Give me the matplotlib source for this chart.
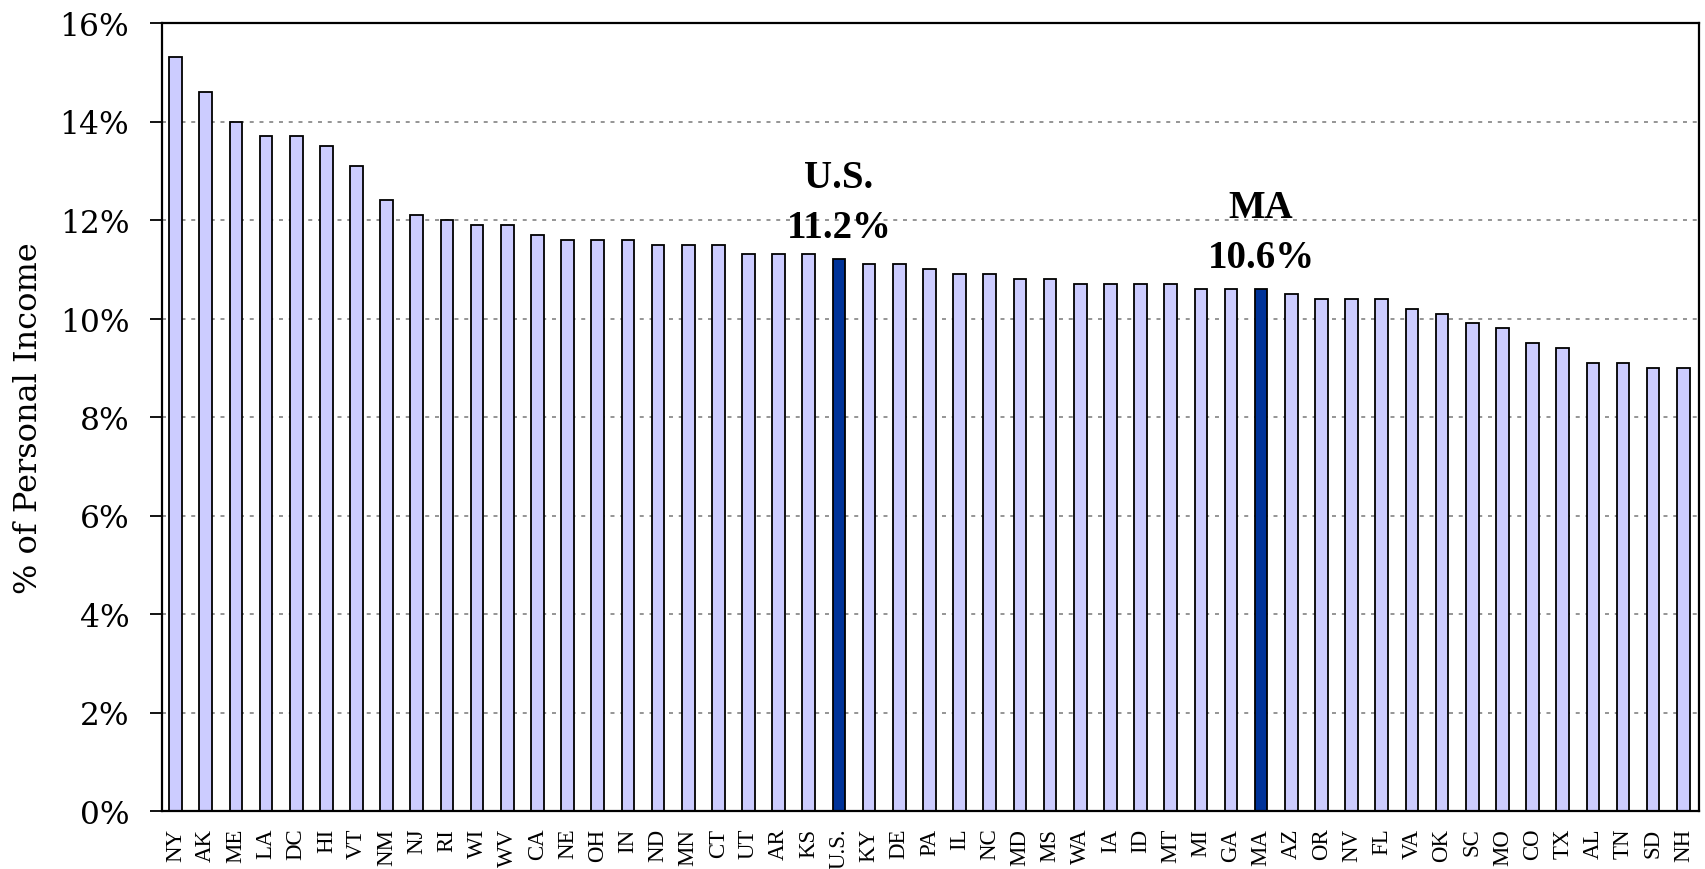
import matplotlib
matplotlib.use("Agg")
import matplotlib.pyplot as plt
from matplotlib.ticker import FixedLocator, FuncFormatter

states = ["NY", "AK", "ME", "LA", "DC", "HI", "VT", "NM", "NJ", "RI", "WI", "WV",
          "CA", "NE", "OH", "IN", "ND", "MN", "CT", "UT", "AR", "KS", "U.S.", "KY",
          "DE", "PA", "IL", "NC", "MD", "MS", "WA", "IA", "ID", "MT", "MI", "GA",
          "MA", "AZ", "OR", "NV", "FL", "VA", "OK", "SC", "MO", "CO", "TX", "AL",
          "TN", "SD", "NH"]
values = [15.3, 14.6, 14.0, 13.7, 13.7, 13.5, 13.1, 12.4, 12.1, 12.0, 11.9, 11.9,
          11.7, 11.6, 11.6, 11.6, 11.5, 11.5, 11.5, 11.3, 11.3, 11.3, 11.2, 11.1,
          11.1, 11.0, 10.9, 10.9, 10.8, 10.8, 10.7, 10.7, 10.7, 10.7, 10.6, 10.6,
          10.6, 10.5, 10.4, 10.4, 10.4, 10.2, 10.1, 9.9, 9.8, 9.5, 9.4, 9.1,
          9.1, 9.0, 9.0]
highlight = ["U.S.", "MA"]
yticks = [0, 2, 4, 6, 8, 10, 12, 14, 16]
ylabel = "% of Personal Income"

light = "#CCCCFF"
dark = "#003399"

fig = plt.figure(figsize=(17.06, 8.70), dpi=100)
W, H = 1706, 870
ax = fig.add_axes([162 / W, 1 - 812 / H, (1699 - 162) / W, (812 - 24) / H])

x = list(range(len(states)))
colors = [dark if s in highlight else light for s in states]
ax.bar(x, values, width=0.42, color=colors, edgecolor="black", linewidth=1.3, zorder=2)

ax.set_xlim(-0.45, len(states) - 0.48)
ax.set_ylim(0, 16)

ax.yaxis.set_major_locator(FixedLocator(yticks))
ax.yaxis.set_major_formatter(FuncFormatter(lambda v, p: f"{v:.0f}%"))
ax.set_axisbelow(True)
ax.yaxis.grid(True, linestyle=(0, (2.2, 3.2)), color="#8c8c8c", linewidth=1.3)

ax.set_xticks(x)
ax.set_xticklabels(states, rotation=90, family="Liberation Serif", fontsize=16.5)
ax.tick_params(axis="x", length=0, pad=12)
ax.tick_params(axis="y", direction="out", length=8.5, width=1.3, pad=15,
               labelsize=22.5)
for lab in ax.get_yticklabels():
    lab.set_family("DejaVu Serif")

for sp in ax.spines.values():
    sp.set_linewidth(1.6)
    sp.set_color("black")

ax.set_ylabel(ylabel, family="DejaVu Serif", fontsize=23)
ax.yaxis.set_label_coords(-0.0768, 0.5)

for s in highlight:
    i = states.index(s)
    v = values[i]
    ax.annotate(f"{v:.1f}%", xy=(i, v), xytext=(0, 23), textcoords="offset points",
                ha="center", va="center", fontsize=28, fontweight="bold",
                family="Liberation Serif", zorder=5)
    ax.annotate(s, xy=(i, v), xytext=(0, 59), textcoords="offset points",
                ha="center", va="center", fontsize=28, fontweight="bold",
                family="Liberation Serif", zorder=5)

fig.savefig("out.png", dpi=100)
